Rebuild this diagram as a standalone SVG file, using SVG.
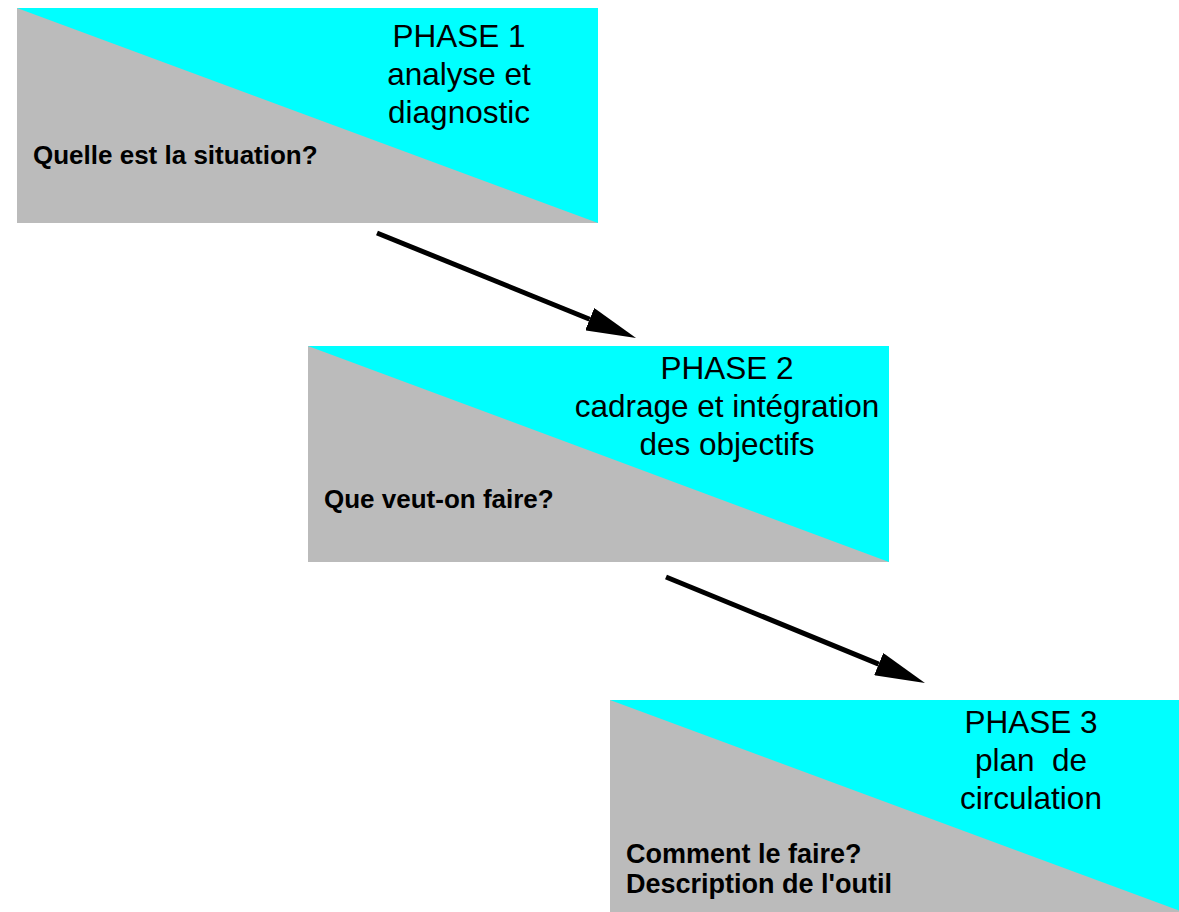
<svg xmlns="http://www.w3.org/2000/svg" width="1179" height="912" viewBox="0 0 1179 912">
<style>
.sky{fill:#00ffff}
.gr{fill:#bbbbbb}
.ph{font-family:"Liberation Sans",Arial,sans-serif;font-size:31.5px;fill:#000;text-anchor:middle}
.q{font-family:"Liberation Sans",Arial,sans-serif;font-size:26px;font-weight:bold;fill:#000}
.q3{font-size:27px}
.ar{stroke:#000;stroke-width:5;fill:none;marker-end:url(#ah)}
</style>
<defs>
<marker id="ah" viewBox="0 -12 50 24" markerWidth="50" markerHeight="24" refX="0" refY="0" markerUnits="userSpaceOnUse" orient="auto">
<path d="M0,-12 L50,0 L0,12 Z" fill="#000"/>
</marker>
</defs>
<rect width="1179" height="912" fill="#fff"/>
<g id="phase1">
<rect class="sky" x="17" y="8" width="581" height="215"/>
<polygon class="gr" points="17,8 598,223 17,223"/>
<text class="ph" x="459" y="47">PHASE 1</text>
<text class="ph" x="459" y="85">analyse et</text>
<text class="ph" x="459" y="123">diagnostic</text>
<text class="q" x="33" y="164">Quelle est la situation?</text>
</g>
<g id="phase2">
<rect class="sky" x="308" y="346" width="581" height="216"/>
<polygon class="gr" points="308,346 889,562 308,562"/>
<text class="ph" x="727" y="379">PHASE 2</text>
<text class="ph" x="727" y="417">cadrage et intégration</text>
<text class="ph" x="727" y="455">des objectifs</text>
<text class="q" x="324" y="508">Que veut-on faire?</text>
</g>
<g id="phase3">
<rect class="sky" x="610" y="700" width="581" height="215"/>
<polygon class="gr" points="610,700 1191,915 610,915"/>
<text class="ph" x="1031" y="733">PHASE 3</text>
<text class="ph" x="1031" y="771" xml:space="preserve">plan  de</text>
<text class="ph" x="1031" y="809">circulation</text>
<text class="q q3" x="626" y="863">Comment le faire?</text>
<text class="q q3" x="626" y="893">Description de l'outil</text>
</g>
<g id="connectors">
<line class="ar" x1="377" y1="233" x2="589.7" y2="319.2"/>
<line class="ar" x1="666" y1="577" x2="878.7" y2="664.1"/>
</g>
</svg>
